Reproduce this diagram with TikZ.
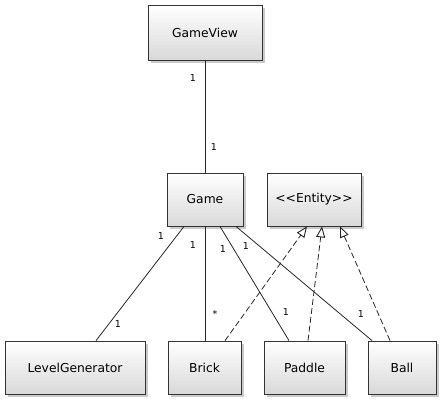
\documentclass[tikz,border=0pt]{standalone}
\usepackage{fontspec}
\setmainfont{DejaVu Sans}
\usetikzlibrary{arrows.meta,shadows}
\begin{document}
\begin{tikzpicture}[x=1pt,y=-1pt,
  cls/.style={draw=black!80, line width=0.8pt, top color=white, bottom color=black!15,
    drop shadow={shadow xshift=2.5pt, shadow yshift=-2.5pt, fill=black!35, opacity=0.6},
    font=\fontsize{12.3}{14}\selectfont, inner sep=0pt},
  assoc/.style={draw=black!85, line width=0.8pt},
  real/.style={draw=black!85, line width=0.8pt, dash pattern=on 6pt off 3pt,
    -{Triangle[open, length=11pt, width=9pt, fill=white, line width=0.9pt]}},
  mult/.style={font=\fontsize{9.5}{10}\selectfont, inner sep=0pt}]
\useasboundingbox (0,0) rectangle (441,400);
\node[cls, minimum width=114pt, minimum height=55pt] (gv) at (205,32.5) {GameView};
\node[cls, minimum width=76pt, minimum height=53pt] (game) at (205,199.5) {Game};
\node[cls, minimum width=94pt, minimum height=53pt] (ent) at (314,199.5) {{<}{<}Entity{>}{>}};
\node[cls, minimum width=140pt, minimum height=53pt] (lg) at (75,367.5) {LevelGenerator};
\node[cls, minimum width=73pt, minimum height=53pt] (brick) at (204.5,367.5) {Brick};
\node[cls, minimum width=81pt, minimum height=53pt] (paddle) at (304.5,367.5) {Paddle};
\node[cls, minimum width=68pt, minimum height=53pt] (ball) at (402,367.5) {Ball};
% associations
\draw[assoc] (gv.south) -- (game.north);
\draw[assoc] ([xshift=-21pt]game.south) -- ([xshift=21pt]lg.north);
\draw[assoc] (game.south) -- ([xshift=0.5pt]brick.north);
\draw[assoc] ([xshift=15pt]game.south) -- ([xshift=-15.5pt]paddle.north);
\draw[assoc] ([xshift=31pt]game.south) -- ([xshift=-30pt]ball.north);
% realizations
\draw[real] ([xshift=20.5pt]brick.north) -- ([xshift=-7pt]ent.south);
\draw[real] ([xshift=3.5pt]paddle.north) -- ([xshift=8pt]ent.south);
\draw[real] ([xshift=-12pt]ball.north) -- ([xshift=26pt]ent.south);
% multiplicities
\node[mult] (m1) at (193,78) {1};
\node[mult] (m2) at (214,147) {1};
\node[mult] (m3) at (161,236) {1};
\node[mult] (m4) at (118,324) {1};
\node[mult] (m5) at (193,245) {1};
\node[mult] (m6) at (215,314) {*};
\node[mult] (m7) at (223,249) {1};
\node[mult] (m8) at (286,312) {1};
\node[mult] (m9) at (246,246) {1};
\node[mult] (m10) at (361,314) {1};
\end{tikzpicture}
\end{document}
